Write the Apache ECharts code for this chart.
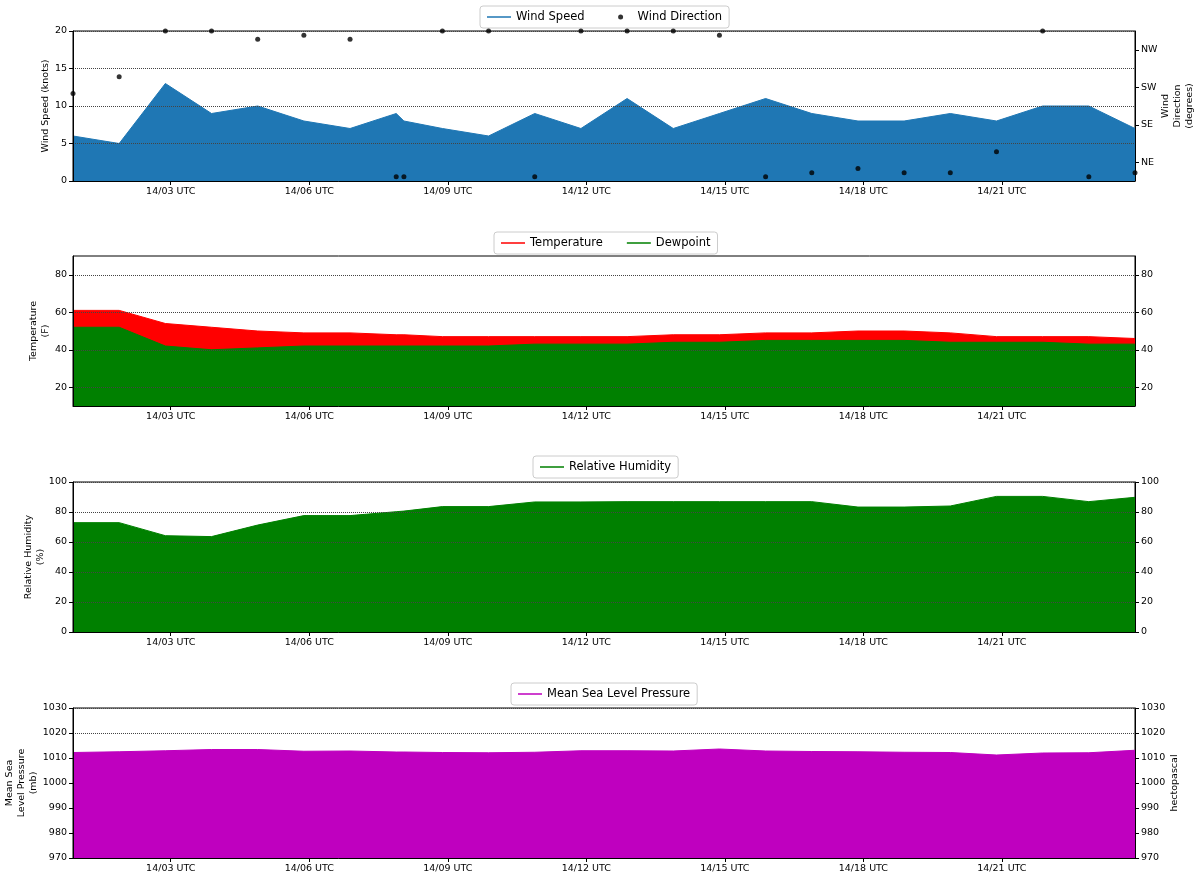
<!DOCTYPE html>
<html>
<head>
<meta charset="utf-8">
<script src="https://cdn.jsdelivr.net/npm/echarts@6/dist/echarts.min.js"></script>
<style>
html, body { margin: 0; padding: 0; background: #fff; }
#main { width: 1200px; height: 881px; }
</style>
</head>
<body>
<div id="main"></div>
<script>
// observations on day 14, UTC (08:03 is a special report)
var obsTimes = ['00:53','01:53','02:53','03:53','04:53','05:53','06:53','07:53','08:03','08:53',
                '09:53','10:53','11:53','12:53','13:53','14:53','15:53','16:53','17:53','18:53',
                '19:53','20:53','21:53','22:53','23:53'];
var windSpeed = [6, 5, 13, 9, 10, 8, 7, 9, 8, 7, 6, 9, 7, 11, 7, 9, 11, 9, 8, 8, 9, 8, 10, 10, 7];
var windDir = [210, 250, 360, 360, 340, 350, 340, 10, 10, 360, 360, 10, 360, 360, 360, 350, 10, 20, 30, 20, 20, 70, 360, 10, 20];
var temperature = [61, 61, 54, 52, 50, 49, 49, 48, 48, 47, 47, 47, 47, 47, 48, 48, 49, 49, 50, 50, 49, 47, 47, 47, 46];
var dewpoint = [52, 52, 42, 40, 41, 42, 42, 42, 42, 42, 42, 43, 43, 43, 44, 44, 45, 45, 45, 45, 44, 44, 44, 43, 43];
var humidity = [72.9, 72.9, 64.2, 63.6, 71.3, 77.6, 77.6, 80.2, 80.6, 83.6, 83.6, 86.7, 86.7, 86.9, 86.9, 86.9,
                86.9, 86.9, 83.3, 83.3, 84.0, 90.4, 90.4, 86.9, 89.8];
var pressure = [1012.2, 1012.5, 1012.9, 1013.4, 1013.4, 1012.7, 1012.8, 1012.4, 1012.4, 1012.2, 1012.1, 1012.3,
                1012.9, 1012.9, 1012.8, 1013.6, 1012.8, 1012.6, 1012.5, 1012.3, 1012.2, 1011.2, 1012.0, 1012.1, 1013.1];

var tickHours = [3, 6, 9, 12, 15, 18, 21];
var dirTicks = [45, 135, 225, 315];
var dirLabels = ['NE', 'SE', 'SW', 'NW'];
var tempTicks = [20, 40, 60, 80];

var FONT = 'DejaVu Sans';
var gridTops = [31, 256, 482, 708];

var hours = obsTimes.map(function (t) {
  var p = t.split(':');
  return +p[0] + p[1] / 60;
});
function pairs(vals) {
  return vals.map(function (v, i) { return [hours[i], v]; });
}
function pad(n) { return (n < 10 ? '0' : '') + n; }

var lineIcon = 'path://M0,0h0.1v0.1h-0.1z M0,4.3h24v1.4H0z M23.9,9.9h0.1v0.1h-0.1z';
var dotIcon = 'path://M0,0h0.1v0.1h-0.1z M23.9,9.9h0.1v0.1h-0.1z M9.5,5a2.5,2.5 0 1,0 5,0a2.5,2.5 0 1,0 -5,0z';

var gridLine = { show: true, lineStyle: { color: '#444', type: 'dotted', width: 1 } };
var labelStyle = { fontSize: 9.5, color: '#000', fontFamily: FONT };

function xAxisFor(i) {
  return {
    type: 'value', gridIndex: i, min: hours[0], max: hours[hours.length - 1], z: 3,
    axisLine: { lineStyle: { color: '#000', width: 1 } },
    axisTick: { customValues: tickHours, length: 4, lineStyle: { color: '#000' } },
    axisLabel: Object.assign({ customValues: tickHours, margin: 6,
      formatter: function (v) { return '14/' + pad(Math.round(v)) + ' UTC'; } }, labelStyle),
    splitLine: { show: false }
  };
}

function yAxisFor(o) {
  return {
    type: 'value', gridIndex: o.grid, position: o.pos, min: o.min, max: o.max,
    interval: o.interval, z: o.z === undefined ? 3 : o.z,
    name: o.name || '', nameLocation: 'middle', nameRotate: 90, nameGap: o.gap || 0,
    nameMoveOverlap: false,
    nameTextStyle: { fontSize: 9.5, color: '#000', fontFamily: FONT, lineHeight: 12 },
    axisLine: { show: o.line !== false, lineStyle: { color: '#000', width: 1 } },
    axisTick: { show: o.labels !== false, customValues: o.ticks, length: 4, lineStyle: { color: '#000' } },
    axisLabel: Object.assign({ show: o.labels !== false, customValues: o.ticks, margin: 6,
      formatter: o.fmt || function (v) { return String(v); } }, labelStyle),
    splitLine: o.split ? gridLine : { show: false }
  };
}

function legendFor(top, left, items) {
  return {
    top: top, left: left, orient: 'horizontal',
    data: items, itemWidth: 24, itemHeight: 10, itemGap: 24,
    padding: [5, 7], borderColor: '#ccc', borderWidth: 1, borderRadius: 3,
    textStyle: { fontSize: 11.5, color: '#000', fontFamily: FONT }
  };
}

function areaSeries(name, vals, color, gi, yi) {
  return {
    name: name, type: 'line', xAxisIndex: gi, yAxisIndex: yi, data: pairs(vals),
    symbol: 'none', itemStyle: { color: color },
    lineStyle: { color: color, width: 1 }, areaStyle: { color: color, opacity: 1 },
    z: 2
  };
}

var chart = echarts.init(document.getElementById('main'), null, { renderer: 'canvas' });
chart.setOption({
  animation: false,
  backgroundColor: '#fff',
  textStyle: { fontFamily: FONT },
  grid: gridTops.map(function (t) {
    return { left: 73, right: 65, top: t, height: 150, show: true,
             containLabel: false, outerBoundsMode: 'none',
             borderColor: '#000', borderWidth: 1, backgroundColor: 'transparent' };
  }),
  legend: [
    legendFor(6, 480, [{ name: 'Wind Speed', icon: lineIcon }, { name: 'Wind Direction', icon: dotIcon }]),
    legendFor(232, 494, [{ name: 'Temperature', icon: lineIcon }, { name: 'Dewpoint', icon: lineIcon }]),
    legendFor(456, 533, [{ name: 'Relative Humidity', icon: lineIcon }]),
    legendFor(683, 511, [{ name: 'Mean Sea Level Pressure', icon: lineIcon }])
  ],
  xAxis: [xAxisFor(0), xAxisFor(1), xAxisFor(2), xAxisFor(3)],
  yAxis: [
    // 0,1: wind
    yAxisFor({ grid: 0, pos: 'left', min: 0, max: 20, interval: 5, split: true,
               name: 'Wind Speed (knots)', gap: 21.5 }),
    yAxisFor({ grid: 0, pos: 'right', min: 0, max: 360, ticks: dirTicks,
               fmt: function (v) { return dirLabels[dirTicks.indexOf(v)]; },
               name: 'Wind\nDirection\n(degrees)', gap: 25 }),
    // 2,3: temperature
    yAxisFor({ grid: 1, pos: 'left', min: 10, max: 90, ticks: tempTicks, split: true,
               name: 'Temperature\n(F)', gap: 21.5 }),
    yAxisFor({ grid: 1, pos: 'right', min: 10, max: 90, ticks: tempTicks }),
    // 4,5: humidity
    yAxisFor({ grid: 2, pos: 'left', min: 0, max: 100, interval: 20, split: true,
               name: 'Relative Humidity\n(%)', gap: 26.5 }),
    yAxisFor({ grid: 2, pos: 'right', min: 0, max: 100, interval: 20 }),
    // 6,7,8: pressure (grid lines sit under the fill)
    yAxisFor({ grid: 3, pos: 'left', min: 970, max: 1030, interval: 10, split: true,
               labels: false, line: false, z: 0 }),
    yAxisFor({ grid: 3, pos: 'left', min: 970, max: 1030, interval: 10,
               name: 'Mean Sea\nLevel Pressure\n(mb)', gap: 33 }),
    yAxisFor({ grid: 3, pos: 'right', min: 970, max: 1030, interval: 10,
               name: 'hectopascal', gap: 34 })
  ],
  series: [
    areaSeries('Wind Speed', windSpeed, '#1f77b4', 0, 0),
    {
      name: 'Wind Direction', type: 'scatter', xAxisIndex: 0, yAxisIndex: 1,
      data: pairs(windDir), symbol: 'circle', symbolSize: 5,
      itemStyle: { color: '#000' }, z: 5
    },
    areaSeries('Temperature', temperature, '#ff0000', 1, 2),
    areaSeries('Dewpoint', dewpoint, '#008000', 1, 2),
    areaSeries('Relative Humidity', humidity, '#008000', 2, 4),
    areaSeries('Mean Sea Level Pressure', pressure, '#bf00bf', 3, 7)
  ]
});
</script>
</body>
</html>
